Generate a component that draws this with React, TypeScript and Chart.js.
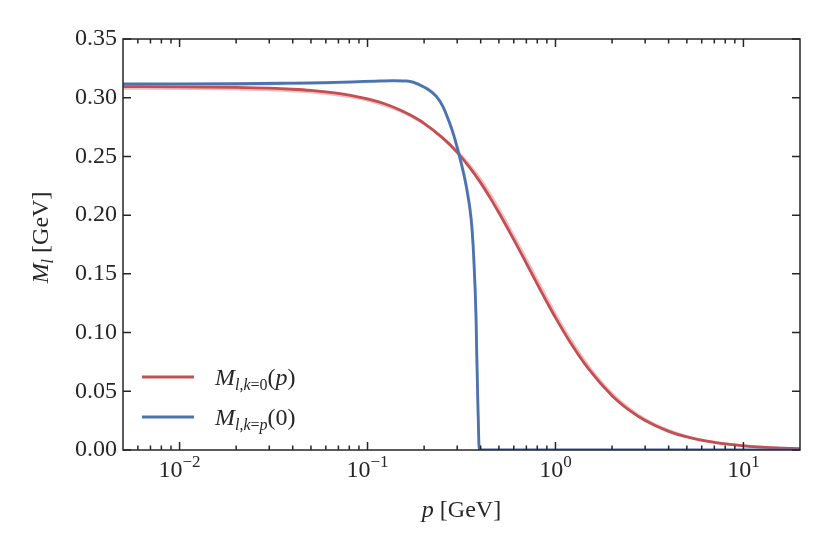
import { Chart, registerables } from "chart.js";
import { useEffect, useRef } from "react";

Chart.register(...registerables);

const FONT = '"Liberation Serif", "DejaVu Serif", serif';
const INK = "#262626";
const RED = "#C44E52";
const BLUE = "#4C72B0";
const RED_FAINT = "rgba(196,78,82,0.35)";
const BLUE_FAINT = "rgba(76,114,176,0.35)";

const X_MIN = 0.005;
const X_MAX = 20;

// M_{l,k=0}(p)
const redP = [0.005, 0.01, 0.02, 0.03, 0.04, 0.05, 0.06, 0.07, 0.08, 0.1, 0.12, 0.15, 0.17, 0.2, 0.25, 0.3, 0.35, 0.4, 0.45, 0.5, 0.6, 0.7, 0.8, 0.9, 1.0, 1.2, 1.5, 2, 2.5, 3, 4, 5, 7, 10, 15, 20];
const redM = [0.3094, 0.3093, 0.3088, 0.3081, 0.3072, 0.3062, 0.305, 0.3037, 0.3023, 0.2991, 0.2955, 0.2894, 0.285, 0.2782, 0.266, 0.2535, 0.2405, 0.2275, 0.2145, 0.202, 0.1792, 0.159, 0.1412, 0.126, 0.1127, 0.0915, 0.069, 0.0463, 0.0333, 0.0251, 0.0159, 0.0111, 0.0064, 0.0035, 0.0018, 0.0011];
const redFaintP = [0.005, 0.02, 0.05, 0.08, 0.1, 0.15, 0.2, 0.25, 0.3, 0.4, 0.5, 0.6, 0.7, 0.8, 1.0, 1.2, 1.5, 2, 3, 5, 10, 20];
const redFaintM = [0.3079, 0.3073, 0.3046, 0.3008, 0.2977, 0.2884, 0.2778, 0.2662, 0.2545, 0.2305, 0.2055, 0.1825, 0.1625, 0.1448, 0.116, 0.0945, 0.0715, 0.0482, 0.0262, 0.0116, 0.0037, 0.0012];

// M_{l,k=p}(0)
const blueP = [0.005, 0.01, 0.02, 0.0375, 0.06, 0.083, 0.11, 0.136, 0.161, 0.175, 0.189, 0.21, 0.2328, 0.252, 0.273, 0.288, 0.3021, 0.3162, 0.335, 0.3561, 0.3663, 0.3731, 0.3777, 0.3824, 0.3871, 0.3908, 0.3923, 0.45, 1, 20];
const blueM = [0.3118, 0.3118, 0.3119, 0.3124, 0.3129, 0.3135, 0.3142, 0.3146, 0.3143, 0.3133, 0.311, 0.307, 0.301, 0.2925, 0.2786, 0.2675, 0.2556, 0.243, 0.2245, 0.196, 0.168, 0.139, 0.113, 0.071, 0.034, 0.0085, 0, 0, 0, 0];
const blueFaintP = [0.005, 0.02, 0.06, 0.11, 0.136, 0.161, 0.189, 0.2328, 0.273, 0.3021, 0.335, 0.3561, 0.3663, 0.3731, 0.3777, 0.3824, 0.3871, 0.391, 0.3935, 0.45, 20];
const blueFaintM = [0.3113, 0.3114, 0.3124, 0.3136, 0.314, 0.3138, 0.3108, 0.3015, 0.2795, 0.257, 0.2265, 0.199, 0.172, 0.143, 0.117, 0.075, 0.037, 0.01, 0, 0, 0];

const yTicks = [0, 0.05, 0.1, 0.15, 0.2, 0.25, 0.3, 0.35];
const xMajor = [0.01, 0.1, 1, 10];
const xExponents = ["\u22122", "\u22121", "0", "1"];

type Part = { t: string; it?: boolean; sz?: number; dy?: number };

const legendItems: { color: string; parts: Part[] }[] = [
  {
    color: RED,
    parts: [
      { t: "M", it: true },
      { t: "l", it: true, sz: 16, dy: 5 },
      { t: ",", sz: 16, dy: 5 },
      { t: "k", it: true, sz: 16, dy: 5 },
      { t: "=0", sz: 16, dy: 5 },
      { t: "(" },
      { t: "p", it: true },
      { t: ")" },
    ],
  },
  {
    color: BLUE,
    parts: [
      { t: "M", it: true },
      { t: "l", it: true, sz: 16, dy: 5 },
      { t: ",", sz: 16, dy: 5 },
      { t: "k", it: true, sz: 16, dy: 5 },
      { t: "=", sz: 16, dy: 5 },
      { t: "p", it: true, sz: 16, dy: 5 },
      { t: "(0)" },
    ],
  },
];

const xTitle: Part[] = [{ t: "p", it: true }, { t: " [GeV]" }];
const yTitle: Part[] = [{ t: "M", it: true }, { t: "l", it: true, sz: 16, dy: 5 }, { t: " [GeV]" }];

function setFont(ctx: CanvasRenderingContext2D, p: Part, base: number) {
  ctx.font = `${p.it ? "italic " : ""}${p.sz ?? base}px ${FONT}`;
}

function richWidth(ctx: CanvasRenderingContext2D, parts: Part[], base: number) {
  let w = 0;
  for (const p of parts) {
    setFont(ctx, p, base);
    w += ctx.measureText(p.t).width;
  }
  return w;
}

function drawRich(ctx: CanvasRenderingContext2D, parts: Part[], x: number, y: number, base: number) {
  let cx = x;
  for (const p of parts) {
    setFont(ctx, p, base);
    ctx.fillText(p.t, cx, y + (p.dy ?? 0));
    cx += ctx.measureText(p.t).width;
  }
}

const framePlugin = {
  id: "frame",
  afterDraw(chart: any) {
    const { ctx, chartArea: a, scales } = chart;
    const xs = scales.x;
    const ys = scales.y;
    ctx.save();
    ctx.strokeStyle = INK;
    ctx.lineWidth = 1.5;
    ctx.strokeRect(a.left, a.top, a.right - a.left, a.bottom - a.top);

    ctx.beginPath();
    for (let e = -3; e <= 1; e++) {
      for (let m = 1; m <= 9; m++) {
        const v = m * Math.pow(10, e);
        if (v < X_MIN * 1.001 || v > X_MAX * 0.999) continue;
        const px = xs.getPixelForValue(v);
        const len = m === 1 ? 8 : 4.5;
        ctx.moveTo(px, a.bottom);
        ctx.lineTo(px, a.bottom - len);
        ctx.moveTo(px, a.top);
        ctx.lineTo(px, a.top + len);
      }
    }
    for (const v of yTicks) {
      const py = ys.getPixelForValue(v);
      ctx.moveTo(a.left, py);
      ctx.lineTo(a.left + 8, py);
      ctx.moveTo(a.right, py);
      ctx.lineTo(a.right - 8, py);
    }
    ctx.stroke();

    ctx.fillStyle = INK;
    ctx.textBaseline = "alphabetic";
    ctx.textAlign = "left";
    // x tick labels 10^k
    xMajor.forEach((v, i) => {
      const px = xs.getPixelForValue(v);
      const parts: Part[] = [{ t: "10" }, { t: xExponents[i], sz: 17, dy: -10 }];
      const w = richWidth(ctx, parts, 24);
      drawRich(ctx, parts, px - w / 2, a.bottom + 27, 24);
    });

    // x title
    const cx = (a.left + a.right) / 2;
    const wx = richWidth(ctx, xTitle, 24);
    drawRich(ctx, xTitle, cx - wx / 2, a.bottom + 67, 24);

    // y title
    const wy = richWidth(ctx, yTitle, 24);
    ctx.save();
    ctx.translate(41, (a.top + a.bottom) / 2 - 7);
    ctx.rotate(-Math.PI / 2);
    drawRich(ctx, yTitle, -wy / 2, 7, 24);
    ctx.restore();

    // legend
    legendItems.forEach((item, i) => {
      const ly = a.bottom - 73 + i * 40;
      ctx.strokeStyle = item.color;
      ctx.lineWidth = 3;
      ctx.beginPath();
      ctx.moveTo(a.left + 19, ly);
      ctx.lineTo(a.left + 71, ly);
      ctx.stroke();
      ctx.fillStyle = INK;
      drawRich(ctx, item.parts, a.left + 92, ly + 8, 24);
    });
    ctx.restore();
  },
};

function pts(xs: number[], ys: number[]) {
  return xs.map((x, i) => ({ x, y: ys[i] }));
}

function App() {
  const chartRef = useRef<HTMLCanvasElement | null>(null);
  useEffect(() => {
    const ctx = chartRef.current?.getContext("2d");
    if (!ctx) return;
    const line = {
      pointRadius: 0,
      fill: false,
      cubicInterpolationMode: "monotone" as const,
    };
    const chart = new Chart(ctx, {
      type: "line",
      data: {
        datasets: [
          { ...line, label: "red faint", data: pts(redFaintP, redFaintM), borderColor: RED_FAINT, borderWidth: 2.6, order: 3 },
          { ...line, label: "blue faint", data: pts(blueFaintP, blueFaintM), borderColor: BLUE_FAINT, borderWidth: 2.6, order: 2 },
          { ...line, label: "M_{l,k=0}(p)", data: pts(redP, redM), borderColor: RED, borderWidth: 2.8, order: 1 },
          { ...line, label: "M_{l,k=p}(0)", data: pts(blueP, blueM), borderColor: BLUE, borderWidth: 2.8, order: 0 },
        ],
      },
      options: {
        responsive: true,
        maintainAspectRatio: false,
        animation: false,
        layout: { padding: { top: 39, right: 30, left: 0, bottom: 0 } },
        plugins: {
          legend: { display: false },
          tooltip: { enabled: false },
        },
        scales: {
          x: {
            type: "logarithmic",
            min: X_MIN,
            max: X_MAX,
            grid: { display: false, drawTicks: false },
            border: { display: false },
            ticks: { display: false },
            afterFit(scale: any) {
              scale.height = 104;
            },
          },
          y: {
            min: 0,
            max: 0.35,
            grid: { display: false, drawTicks: false },
            border: { display: false },
            ticks: {
              stepSize: 0.05,
              padding: 6,
              color: INK,
              font: { family: FONT, size: 24 },
              callback: (v: any) => Number(v).toFixed(2),
            },
            afterFit(scale: any) {
              scale.width = 123;
            },
          },
        },
      },
      plugins: [framePlugin],
    });
    return () => chart.destroy();
  }, []);
  return (
    <div style={{ position: "fixed", left: 0, top: 0, width: 830, height: 554, background: "#fff" }}>
      <canvas ref={chartRef}></canvas>
    </div>
  );
}

export default App;
